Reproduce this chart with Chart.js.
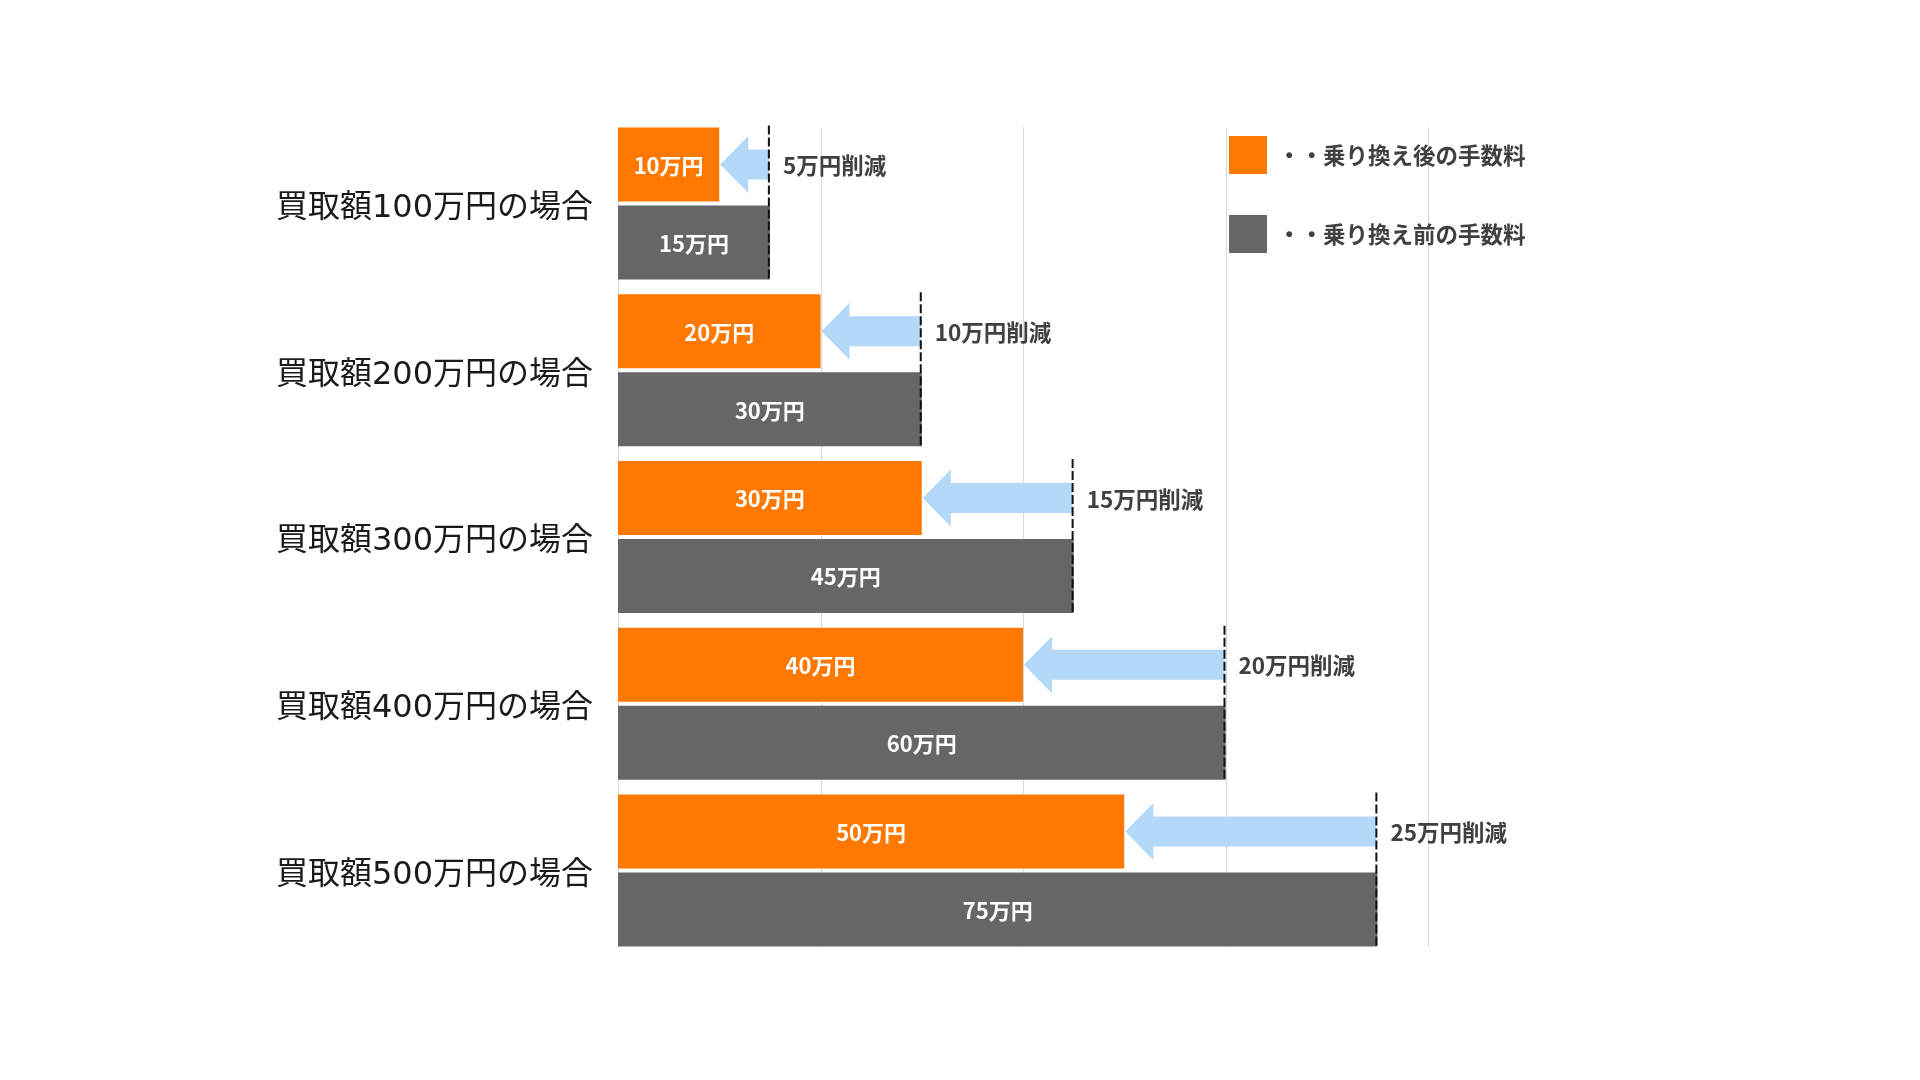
<!DOCTYPE html>
<html>
<head>
<meta charset="utf-8">
<script src="https://cdn.jsdelivr.net/npm/chart.js@4.4.0/dist/chart.umd.min.js"></script>
<style>
html, body { margin: 0; padding: 0; background: #fff; }
#wrap { width: 1920px; height: 1080px; }
</style>
</head>
<body>
<div id="wrap"><canvas id="chart" width="1920" height="1080"></canvas></div>
<script>
// data
var categories = ['買取額100万円の場合', '買取額200万円の場合', '買取額300万円の場合', '買取額400万円の場合', '買取額500万円の場合'];
var afterFee = [10, 20, 30, 40, 50];   // 乗り換え後
var beforeFee = [15, 30, 45, 60, 75];  // 乗り換え前
var seriesNames = ['乗り換え後の手数料', '乗り換え前の手数料'];
var legendLabels = ['・・乗り換え後の手数料', '・・乗り換え前の手数料'];
var unit = '万円';
var xMax = 80;
var xStep = 20;

var ORANGE = '#ff7800';
var GRAY = '#666666';
var ARROW = '#b3d8f8';
var FONT = '"Noto Sans CJK JP", "Noto Sans", sans-serif';

Chart.defaults.font.family = FONT;

var overlay = {
    id: 'overlay',
    // grid lines only over the span of the bars, like the original
    beforeDatasetsDraw: function(chart) {
        var ctx = chart.ctx;
        var xs = chart.scales.x;
        var first = chart.getDatasetMeta(0).data[0];
        var last = chart.getDatasetMeta(1).data[categories.length - 1];
        var top = first.y - first.height / 2;
        var bottom = last.y + last.height / 2;
        ctx.save();
        ctx.strokeStyle = '#d9d9d9';
        ctx.lineWidth = 1;
        xs.ticks.forEach(function(t) {
            var px = Math.round(xs.getPixelForValue(t.value)) + 0.5;
            ctx.beginPath();
            ctx.moveTo(px, top);
            ctx.lineTo(px, bottom);
            ctx.stroke();
        });
        ctx.restore();
    },
    afterDatasetsDraw: function(chart) {
        var ctx = chart.ctx;
        var m0 = chart.getDatasetMeta(0);
        var m1 = chart.getDatasetMeta(1);
        ctx.save();
        for (var i = 0; i < categories.length; i++) {
            var a = m0.data[i], b = m1.data[i];

            // arrow from old fee back to new fee
            var y = a.y, tip = a.x, tail = b.x - 1;
            var headLen = 29, headH = 57, shaftH = 30;
            ctx.fillStyle = ARROW;
            ctx.beginPath();
            ctx.moveTo(tip + 1, y);
            ctx.lineTo(tip + headLen, y - headH / 2);
            ctx.lineTo(tip + headLen, y - shaftH / 2);
            ctx.lineTo(tail, y - shaftH / 2);
            ctx.lineTo(tail, y + shaftH / 2);
            ctx.lineTo(tip + headLen, y + shaftH / 2);
            ctx.lineTo(tip + headLen, y + headH / 2);
            ctx.closePath();
            ctx.fill();

            // dashed marker
            ctx.strokeStyle = '#111';
            ctx.lineWidth = 2;
            ctx.setLineDash([9, 3]);
            ctx.beginPath();
            ctx.moveTo(tail, a.y - a.height / 2 - 2);
            ctx.lineTo(tail, b.y + b.height / 2);
            ctx.stroke();
            ctx.setLineDash([]);

            // labels inside bars
            ctx.fillStyle = '#ffffff';
            ctx.font = 'bold 22px ' + FONT;
            ctx.textAlign = 'center';
            ctx.textBaseline = 'middle';
            ctx.fillText(afterFee[i] + unit, (a.x + a.base) / 2, a.y + 1);
            ctx.fillText(beforeFee[i] + unit, (b.x + b.base) / 2, b.y + 1);

            // reduction label
            ctx.fillStyle = '#404040';
            ctx.textAlign = 'left';
            ctx.font = 'bold 22.5px ' + FONT;
            ctx.fillText((beforeFee[i] - afterFee[i]) + unit + '削減', tail + 14, y + 1);
        }
        ctx.restore();
    },
    afterDraw: function(chart) {
        var ctx = chart.ctx;
        var colors = [ORANGE, GRAY];
        var tops = [136, 215];
        ctx.save();
        ctx.font = 'bold 22.5px ' + FONT;
        ctx.textBaseline = 'middle';
        ctx.textAlign = 'left';
        for (var k = 0; k < legendLabels.length; k++) {
            ctx.fillStyle = colors[k];
            ctx.fillRect(1229, tops[k], 38, 38);
            ctx.fillStyle = '#404040';
            ctx.fillText(legendLabels[k], 1278, tops[k] + 19);
        }
        ctx.restore();
    }
};

var ctx = document.getElementById('chart').getContext('2d');
var chart = new Chart(ctx, {
    type: 'bar',
    data: {
        labels: categories,
        datasets: [{
            label: seriesNames[0],
            data: afterFee,
            backgroundColor: ORANGE,
            categoryPercentage: 0.935,
            barPercentage: 0.949
        }, {
            label: seriesNames[1],
            data: beforeFee,
            backgroundColor: GRAY,
            categoryPercentage: 0.935,
            barPercentage: 0.949
        }]
    },
    options: {
        indexAxis: 'y',
        responsive: false,
        animation: false,
        layout: { padding: { left: 0, top: 120, right: 492, bottom: 126 } },
        plugins: {
            legend: { display: false },
            tooltip: { enabled: false }
        },
        scales: {
            x: {
                min: 0,
                max: xMax,
                ticks: { display: false, stepSize: xStep },
                grid: { display: false, drawTicks: false },
                border: { display: false },
                afterFit: function(s) { s.height = 0; }
            },
            y: {
                grid: { display: false, drawTicks: false },
                border: { display: false },
                ticks: {
                    color: '#1a1a1a',
                    padding: 25,
                    labelOffset: 5,
                    font: { family: '"DejaVu Sans", "Noto Sans CJK JP", sans-serif', size: 32, weight: 400 }
                },
                afterFit: function(s) { s.width = 618; }
            }
        }
    },
    plugins: [overlay]
});
</script>
</body>
</html>
